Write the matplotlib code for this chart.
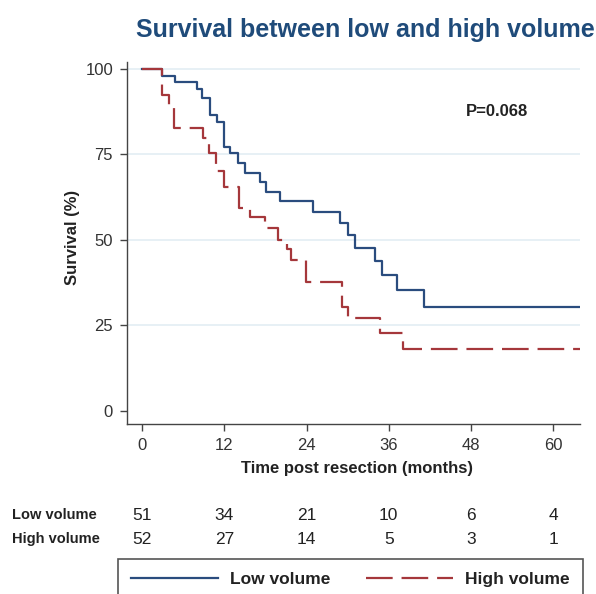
import numpy as np
import matplotlib
matplotlib.use("Agg")
import matplotlib.pyplot as plt
from matplotlib.transforms import blended_transform_factory

plt.rcParams["font.family"] = ["Liberation Sans", "DejaVu Sans"]

# Kaplan-Meier steps (months, survival %)
low_t = [0, 2.9, 4.8, 8.0, 8.7, 9.9, 11.0, 11.9, 12.9, 14.0, 15.0, 17.2, 18.1,
         20.1, 25.0, 28.9, 30.1, 31.0, 34.0, 35.0, 37.2, 41.2, 63.9]
low_s = [100, 98.0, 96.1, 94.1, 91.4, 86.5, 84.6, 77.3, 75.4, 72.4, 69.5, 67.0, 64.1,
         61.5, 58.3, 54.9, 51.5, 47.6, 43.7, 39.8, 35.4, 30.4, 30.4]

high_t = [0, 2.9, 3.9, 4.6, 8.9, 9.8, 10.8, 11.9, 14.1, 15.8, 18.0, 19.9, 21.1,
          21.8, 23.9, 29.1, 30.1, 34.7, 38.1, 63.9]
high_s = [100, 92.3, 88.5, 82.7, 79.8, 75.3, 70.0, 65.6, 59.3, 56.6, 53.4, 50.0, 47.3,
          44.0, 37.6, 30.5, 27.1, 22.7, 18.0, 18.0]

# numbers at risk
risk_times = [0, 12, 24, 36, 48, 60]
low_risk = [51, 34, 21, 10, 6, 4]
high_risk = [52, 27, 14, 5, 3, 1]

blue = "#2a4c7e"
red = "#a5373b"

fig = plt.figure(figsize=(5.96, 5.94), dpi=100)
ax = fig.add_axes([127 / 596, 1 - 424 / 594, (580 - 127) / 596, (424 - 62) / 594])

ax.step(low_t, low_s, where="post", color=blue, linewidth=1.6, label="Low volume", zorder=3)
ax.step(high_t, high_s, where="post", color=red, linewidth=1.6,
        linestyle=(0, (12, 4)), label="High volume", zorder=3)

ax.set_xlim(-2.2, 63.9)
ax.set_ylim(-3.8, 102)
ax.set_xticks(risk_times)
ax.set_yticks([0, 25, 50, 75, 100])

# light horizontal gridlines
for g in [25, 50, 75, 100]:
    ax.axhline(g, color="#e3eef3", linewidth=1.2, zorder=1)

for side in ["top", "right"]:
    ax.spines[side].set_visible(False)
for side in ["left", "bottom"]:
    ax.spines[side].set_color("#444444")
    ax.spines[side].set_linewidth(1.0)

ax.tick_params(axis="both", length=5, width=1.0, color="#444444",
               labelsize=12, labelcolor="#333333", pad=5)

ax.text(47.2, 87.5, "P=0.068", fontsize=12, fontweight="bold", color="#222222",
        ha="left", va="center")

fig.text(365 / 596, 1 - 30 / 594, "Survival between low and high volume",
         fontsize=18, fontweight="bold", color="#1f4b7a", ha="center", va="center")
fig.text(72 / 596, 1 - 237 / 594, "Survival (%)", fontsize=12, fontweight="bold",
         color="#222222", rotation=90, ha="center", va="center")
fig.text(357 / 596, 1 - 468 / 594, "Time post resection (months)", fontsize=12,
         fontweight="bold", color="#222222", ha="center", va="center")

# numbers at risk table
trans = blended_transform_factory(ax.transData, fig.transFigure)
for row_y, name, counts in [(1 - 515 / 594, "Low volume", low_risk),
                            (1 - 539 / 594, "High volume", high_risk)]:
    fig.text(12 / 596, row_y, name, fontsize=10.5, fontweight="bold",
             color="#222222", ha="left", va="center")
    for t, n in zip(risk_times, counts):
        ax.text(t, row_y, str(n), transform=trans, fontsize=12.5, color="#222222",
                ha="center", va="center", clip_on=False)

leg = fig.legend(loc="upper left", ncol=2, mode="expand",
                 bbox_to_anchor=(118 / 596, 0, (583 - 118) / 596, 1 - 559 / 594),
                 prop={"weight": "bold", "size": 12.5}, handlelength=5.0,
                 handletextpad=0.7, borderpad=0.75, borderaxespad=0,
                 fancybox=False, framealpha=1)
leg.get_frame().set_edgecolor("#555555")
leg.get_frame().set_linewidth(1.2)
for txt in leg.get_texts():
    txt.set_color("#222222")

plt.savefig("out.png", dpi=100)
